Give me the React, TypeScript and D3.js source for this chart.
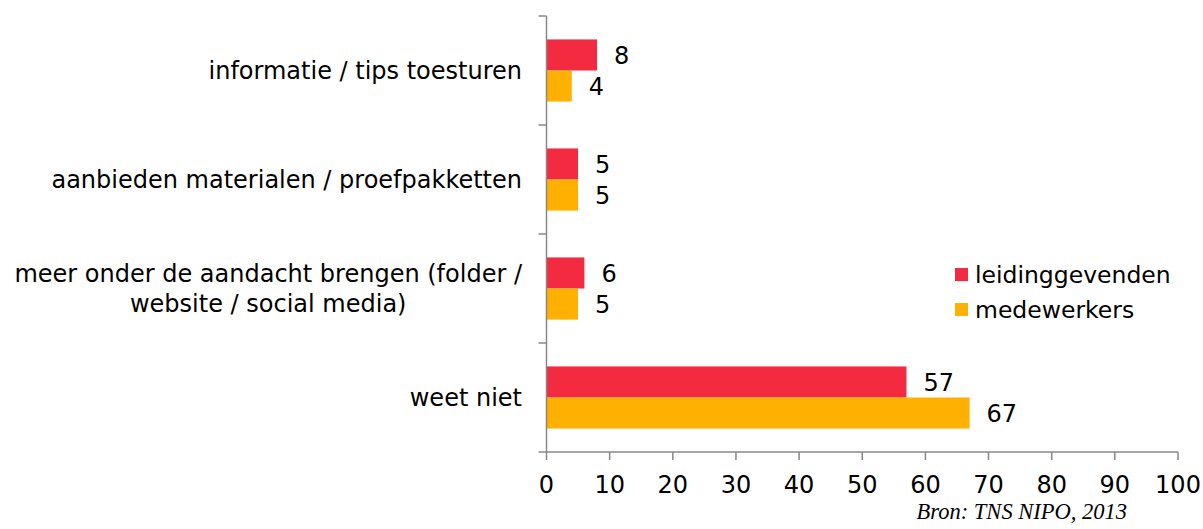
import React from "react";
import * as d3 from "d3";

const categories = [
  ["informatie / tips toesturen"],
  ["aanbieden materialen / proefpakketten"],
  ["meer onder de aandacht brengen (folder /", "website / social media)"],
  ["weet niet"],
];
const leidinggevenden = [8, 5, 6, 57];
const medewerkers = [4, 5, 5, 67];
const seriesNames = ["leidinggevenden", "medewerkers"];
const colors = ["#F42A41", "#FFB000"];
const xTicks = [0, 10, 20, 30, 40, 50, 60, 70, 80, 90, 100];

function measure(text: string, font: string): number {
  const c = document.createElement("canvas").getContext("2d");
  if (!c) return text.length * 13;
  c.font = font;
  return c.measureText(text).width;
}

export default function App() {
  const W = 1203, H = 529;
  const left = 546.5, right = 1178, top = 16, bottom = 452;
  const x = d3.scaleLinear().domain([0, 100]).range([left, right]);
  const idx = categories.map((_, i) => i);
  const y = d3.scaleBand<number>().domain(idx).range([top, bottom]).paddingInner(0.43).paddingOuter(0.215);
  const y2 = d3.scaleBand<number>().domain([0, 1]).range([0, y.bandwidth()]);
  const series = [leidinggevenden, medewerkers];
  const font = "Verdana, 'DejaVu Sans', sans-serif";
  const step = (bottom - top) / categories.length;
  return (
    <svg width={W} height={H} style={{ position: "absolute", left: 0, top: 0 }}>
      <rect width={W} height={H} fill="#fff" />
      {series.map((vals, s) =>
        vals.map((v, i) => (
          <g key={`${s}-${i}`}>
            <rect x={x(0)} y={(y(i) as number) + (y2(s) as number)} width={x(v) - x(0)} height={y2.bandwidth()} fill={colors[s]} />
            <text x={x(v) + 17} y={(y(i) as number) + (y2(s) as number) + y2.bandwidth() / 2} dy="0.36em" fontFamily={font} fontSize={24} fill="#000">{v}</text>
          </g>
        ))
      )}
      <line x1={left} x2={left} y1={top} y2={bottom} stroke="#888" strokeWidth={1.5} />
      {d3.range(categories.length + 1).map((k) => (
        <line key={k} x1={left - 8} x2={left} y1={top + k * step} y2={top + k * step} stroke="#888" strokeWidth={1.5} />
      ))}
      <line x1={left} x2={right} y1={bottom} y2={bottom} stroke="#888" strokeWidth={1.5} />
      {xTicks.map((t) => (
        <g key={t}>
          <line x1={x(t)} x2={x(t)} y1={bottom} y2={bottom + 8} stroke="#888" strokeWidth={1.5} />
          <text x={x(t)} y={484} dy="0.36em" textAnchor="middle" fontFamily={font} fontSize={24} fill="#000">{t}</text>
        </g>
      ))}
      {categories.map((lines, i) => {
        const cy = (y(i) as number) + y.bandwidth() / 2;
        const lh = 30;
        const maxW = Math.max(...lines.map((l) => measure(l, "24px 'DejaVu Sans'")));
        const cx = 522 - maxW / 2;
        return (
          <text key={i} textAnchor={lines.length > 1 ? "middle" : "end"} fontFamily={font} fontSize={24} fill="#000">
            {lines.map((l, j) => (
              <tspan key={j} x={lines.length > 1 ? cx : 522} y={cy + (j - (lines.length - 1) / 2) * lh} dy="0.36em">{l}</tspan>
            ))}
          </text>
        );
      })}
      {seriesNames.map((n, s) => (
        <g key={n}>
          <rect x={955} y={268 + s * 35} width={13} height={13} fill={colors[s]} />
          <text x={975} y={275 + s * 35} dy="0.36em" fontFamily={font} fontSize={23.5} fill="#000">{n}</text>
        </g>
      ))}
      <text x={1127} y={519} textAnchor="end" fontFamily="'Liberation Serif', 'DejaVu Serif', serif" fontStyle="italic" fontSize={22.5} fill="#000">Bron: TNS NIPO, 2013</text>
    </svg>
  );
}
